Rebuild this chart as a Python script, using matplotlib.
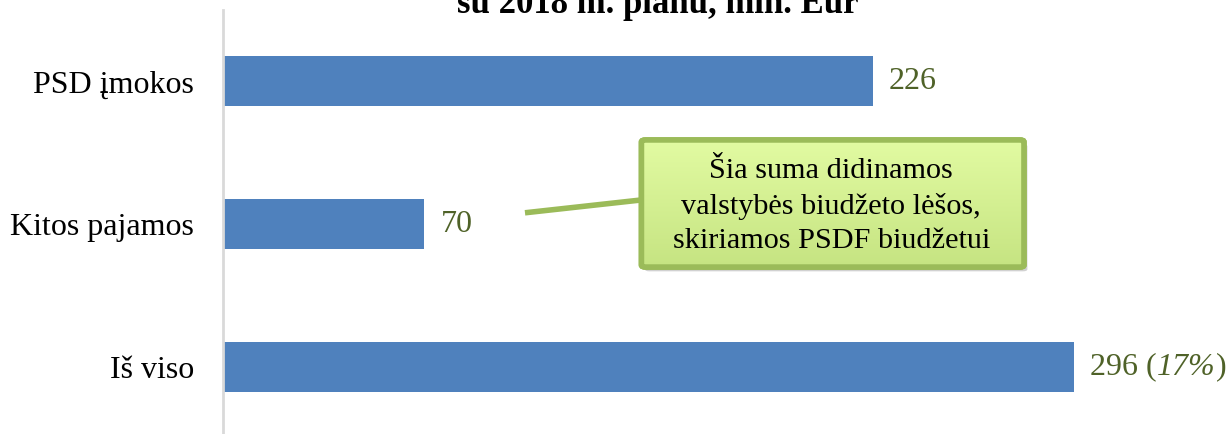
import matplotlib.pyplot as plt
import numpy as np
from matplotlib.patches import FancyBboxPatch
from matplotlib.colors import LinearSegmentedColormap

# chart data
categories = ["PSD įmokos", "Kitos pajamos", "Iš viso"]
values = [226, 70, 296]
value_labels = ["226", "70", "296"]
share_note = ["", "", "17%"]   # italic share shown next to the total
title_line = "su 2018 m. planu, mln. Eur"
callout_text = "Šia suma didinamos\nvalstybės biudžeto lėšos,\nskiriamos PSDF biudžetui"

plt.rcParams['font.family'] = ['Liberation Serif', 'DejaVu Serif']

W, H = 1229, 434
FS = 23
fig = plt.figure(figsize=(W / 100, H / 100), dpi=100)
# axes from x=223px to right edge, y from 10px to bottom
ax = fig.add_axes([223 / W, 0, 1 - 223 / W, 1 - 10 / H])

bar_color = "#4f81bd"
label_color = "#4f6228"
ypos = np.arange(len(categories))
ax.barh(ypos, values, height=0.35, color=bar_color, zorder=2)

ax.set_xlim(0, (W - 223) / 2.876)
ax.set_ylim(2.469, -0.5)

for y, v, lab, note in zip(ypos, values, value_labels, share_note):
    if not note:
        ax.text(v + 5.6, y, lab, va='center', ha='left', fontsize=FS,
                color=label_color)
        continue
    t1 = ax.text(v + 5.6, y, lab + " (", va='center', ha='left',
                 fontsize=FS, color=label_color)
    t2 = ax.annotate(note, xy=(1, 0), xycoords=t1, va='bottom', ha='left',
                     fontsize=FS, color=label_color, style='italic')
    ax.annotate(")", xy=(1, 0), xycoords=t2, va='bottom', ha='left',
                fontsize=FS, color=label_color)

ax.set_yticks(ypos)
ax.set_yticklabels(categories, fontsize=FS)
ax.tick_params(axis='y', length=0, pad=21)
ax.set_xticks([])
for side in ['top', 'right', 'bottom']:
    ax.spines[side].set_visible(False)
ax.spines['left'].set_color('#d9d9d9')
ax.spines['left'].set_linewidth(2)

# title (only the last line is visible in the crop)
fig.text(0.535, 1 - 13 / H, title_line, ha='center', va='baseline',
         fontsize=25, fontweight='bold')

# callout with connector line
x0, x1 = 145.5, 278.5
y0, y1 = 0.41, 1.30
ax.plot([105, x0], [0.92, 0.83], color='#9bbb59', lw=4, zorder=3,
        solid_capstyle='butt')

shadow = FancyBboxPatch((x0 + 1.2, y0 + 0.03), x1 - x0, y1 - y0,
                        boxstyle="round,pad=0,rounding_size=1.5",
                        facecolor='#000000', alpha=0.18, edgecolor='none',
                        zorder=3, mutation_aspect=0.01)
ax.add_patch(shadow)
box = FancyBboxPatch((x0, y0), x1 - x0, y1 - y0,
                     boxstyle="round,pad=0,rounding_size=1.5",
                     facecolor='#d4f08e', edgecolor='#9bbb59', lw=4,
                     zorder=4, mutation_aspect=0.01)
ax.add_patch(box)
cmap = LinearSegmentedColormap.from_list('g', ['#e2fba2', '#c6e482'])
grad = np.linspace(0, 1, 100).reshape(-1, 1)
img = ax.imshow(grad, cmap=cmap, extent=[x0, x1, y1, y0], aspect='auto',
                zorder=4.5, interpolation='bilinear')
img.set_clip_path(box)
frame = FancyBboxPatch((x0, y0), x1 - x0, y1 - y0,
                       boxstyle="round,pad=0,rounding_size=1.5",
                       facecolor='none', edgecolor='#9bbb59', lw=4,
                       zorder=5, mutation_aspect=0.01)
ax.add_patch(frame)
ax.text(211.5, (y0 + y1) / 2 + 0.02, callout_text, ha='center',
        va='center', fontsize=21.8, linespacing=1.42, zorder=6)

fig.savefig("out.png", dpi=100)
